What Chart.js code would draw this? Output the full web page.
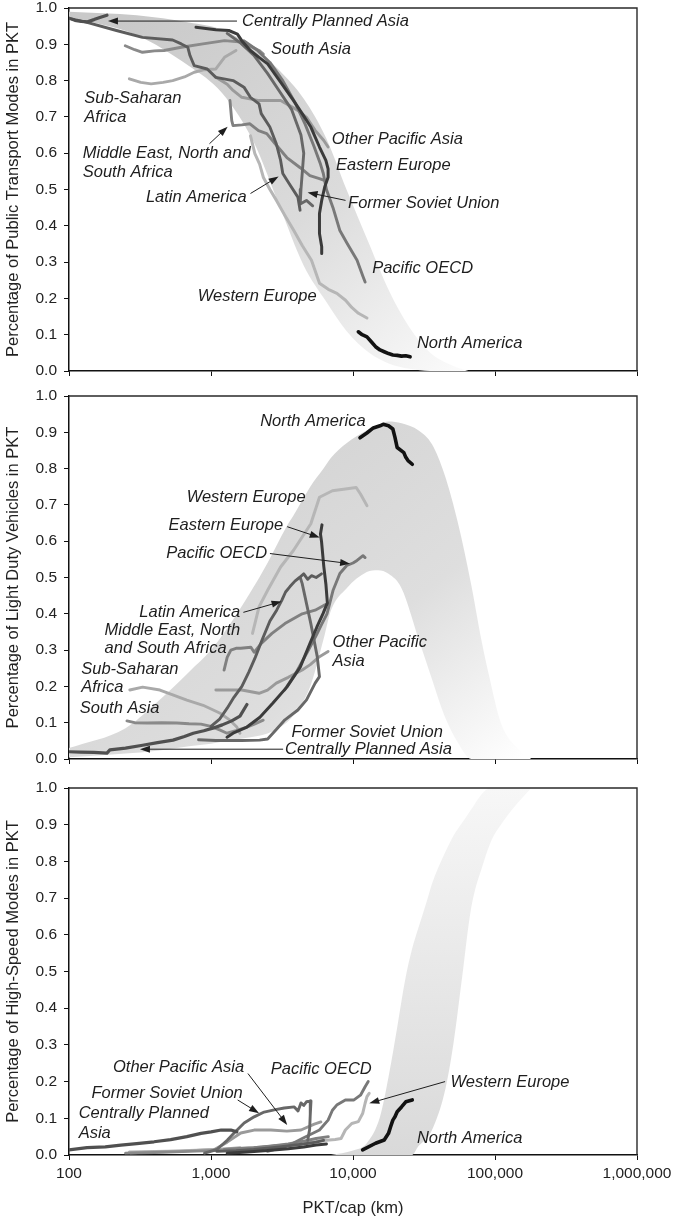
<!doctype html>
<html lang="en">
<head>
<meta charset="utf-8">
<title>Mode shares vs PKT/cap</title>
<script src="https://cdn.jsdelivr.net/npm/chart.js"></script>
<style>
  body { margin: 0; background: #fff; }
  .panel { position: absolute; left: 0; width: 674px; }
</style>
</head>
<body>
<div class="panel" style="top:0;height:390px"><canvas id="pt"></canvas></div>
<div class="panel" style="top:388px;height:390px"><canvas id="ldv"></canvas></div>
<div class="panel" style="top:780px;height:443px"><canvas id="hs"></canvas></div>
<script>
// axis ticks
const xTicks = [100, 1000, 10000, 100000, 1000000];
const xTickLabels = ['100', '1,000', '10,000', '100,000', '1,000,000'];
const yTicks = [0, 0.1, 0.2, 0.3, 0.4, 0.5, 0.6, 0.7, 0.8, 0.9, 1.0];
const yTickLabels = ['0.0', '0.1', '0.2', '0.3', '0.4', '0.5', '0.6', '0.7', '0.8', '0.9', '1.0'];

// shaded ranges: x (PKT/cap) and upper / lower share
const ptBandX = [100, 300, 700, 1200, 2000, 3000, 4500, 6500, 9000, 13000, 18000, 25000, 35000, 50000, 65000];
const ptBandHigh = [0.99, 0.98, 0.96, 0.94, 0.89, 0.83, 0.75, 0.64, 0.5, 0.35, 0.22, 0.12, 0.05, 0.015, 0];
const ptBandLow = [0.975, 0.925, 0.84, 0.765, 0.63, 0.46, 0.29, 0.19, 0.11, 0.05, 0.02, 0.006, 0, 0, 0];

const ldvBandX = [100, 250, 400, 700, 1000, 1300, 1900, 2500, 3400, 3800, 5000, 6200, 7000, 9000, 12500, 15000, 17800, 22000, 29000, 36000, 44000, 55000, 68000, 80000, 90000, 110000, 147000, 180000];
const ldvBandHigh = [0.03, 0.085, 0.15, 0.24, 0.3, 0.36, 0.46, 0.54, 0.64, 0.67, 0.75, 0.8, 0.83, 0.87, 0.905, 0.92, 0.93, 0.925, 0.905, 0.867, 0.785, 0.648, 0.48, 0.33, 0.236, 0.099, 0.026, 0];
const ldvBandLow = [0.005, 0.015, 0.022, 0.035, 0.042, 0.05, 0.06, 0.07, 0.1, 0.12, 0.2, 0.33, 0.41, 0.47, 0.515, 0.52, 0.51, 0.47, 0.33, 0.22, 0.12, 0.044, 0, 0, 0, 0, 0, 0];

const hsBandX = [7000, 10000, 12500, 15500, 17800, 20500, 23500, 26000, 29000, 33000, 36000, 44000, 51000, 58700, 67500, 83500, 95000, 110000, 138000, 180000];
const hsBandHigh = [0, 0.012, 0.032, 0.104, 0.213, 0.349, 0.485, 0.56, 0.621, 0.69, 0.739, 0.82, 0.87, 0.905, 0.94, 0.99, 1.0, 1.0, 1.0, 1.0];
const hsBandLow = [0, 0, 0, 0, 0, 0, 0, 0, 0.025, 0.045, 0.068, 0.168, 0.304, 0.485, 0.666, 0.8, 0.86, 0.9, 0.95, 1.0];

// public transport share, [PKT/cap, share]
const ptNorthAmerica = [[10900,0.108],[11600,0.1],[12540,0.094],[13500,0.08],[14420,0.067],[15500,0.058],[16590,0.053],[17800,0.048],[19090,0.044],[20500,0.043],[21960,0.041],[23500,0.042],[25250,0.039]];
const ptWesternEurope = [[1897,0.648],[2036,0.599],[2200,0.57],[2339,0.533],[2600,0.5],[2890,0.47],[3300,0.43],[3830,0.387],[4400,0.345],[5100,0.305],[5810,0.242],[6700,0.225],[7700,0.214],[8860,0.195],[9800,0.175],[10920,0.159],[12540,0.146]];
const ptPacificOECD = [[1700,0.91],[2100,0.885],[2600,0.85],[3200,0.8],[3900,0.74],[4600,0.68],[5300,0.62],[5900,0.57],[6180,0.544],[6500,0.5],[7230,0.45],[8080,0.387],[9080,0.352],[10680,0.305],[11760,0.26],[12170,0.245]];
const ptEasternEurope = [[784,0.947],[1082,0.94],[1335,0.938],[1535,0.928],[1647,0.91],[1894,0.883],[2179,0.864],[2506,0.846],[3092,0.796],[3815,0.745],[4388,0.709],[5047,0.672],[5806,0.617],[6440,0.58],[6678,0.557],[6678,0.534],[6320,0.507],[6020,0.47],[5806,0.434],[5806,0.379],[6020,0.342],[6020,0.324]];
const ptFormerSovietUnion = [[1300,0.93],[1600,0.905],[2000,0.87],[2500,0.82],[3100,0.765],[3700,0.72],[4300,0.65],[4500,0.6],[4400,0.55],[4300,0.5],[4250,0.46],[4700,0.47],[5200,0.455]];
const ptCentrallyPlannedAsia = [[100,0.972],[110,0.966],[122,0.963],[135,0.962],[150,0.968],[165,0.974],[185,0.98]];
const ptSouthAsia = [[249,0.896],[290,0.885],[329,0.878],[400,0.882],[467,0.883],[618,0.892],[877,0.901],[1245,0.91],[1647,0.906],[2179,0.883],[2337,0.873]];
const ptOtherPacificAsia = [[1082,0.809],[1300,0.79],[1431,0.773],[1647,0.754],[2179,0.745],[3092,0.745],[4091,0.718],[4706,0.699],[5413,0.663],[6227,0.635],[6678,0.617]];
const ptMiddleEast = [[1360,0.745],[1400,0.69],[1430,0.676],[1650,0.678],[1880,0.681],[2160,0.662],[2470,0.654],[2830,0.626],[3420,0.588],[4250,0.56],[4970,0.538],[5800,0.53],[6280,0.525]];
const ptLatinAmerica = [[104,0.97],[132,0.961],[216,0.938],[329,0.919],[537,0.912],[618,0.901],[686,0.892],[711,0.869],[762,0.841],[940,0.832],[1082,0.809],[1431,0.8],[1706,0.782],[1894,0.754],[2179,0.736],[2258,0.709],[2597,0.672],[2883,0.626],[3092,0.58],[3203,0.544],[3557,0.516],[4091,0.479],[4239,0.443]];
const ptSubSaharanAfrica = [[266,0.805],[320,0.795],[379,0.791],[460,0.795],[537,0.8],[650,0.81],[762,0.823],[900,0.83],[1082,0.832],[1245,0.864],[1500,0.883]];

// light duty vehicle share
const ldvNorthAmerica = [[11200,0.885],[12520,0.898],[13900,0.912],[15500,0.918],[16300,0.922],[17790,0.918],[19080,0.909],[19750,0.886],[20470,0.858],[22800,0.844],[23540,0.831],[24400,0.822],[26140,0.812]];
const ldvWesternEurope = [[1960,0.346],[2179,0.419],[2506,0.465],[3092,0.529],[3815,0.575],[5047,0.648],[5806,0.721],[7162,0.739],[8836,0.744],[10530,0.748],[11290,0.73],[12540,0.698]];
const ldvPacificOECD = [[3300,0.19],[4000,0.24],[4700,0.29],[5500,0.34],[6000,0.37],[6560,0.4],[7230,0.464],[8080,0.511],[9040,0.533],[10000,0.54],[10680,0.547],[11760,0.56],[12170,0.555]];
const ldvEasternEurope = [[1296,0.06],[1430,0.071],[1790,0.088],[2210,0.115],[2730,0.154],[3420,0.198],[4250,0.253],[4980,0.319],[5560,0.363],[6160,0.401],[6600,0.43],[6450,0.48],[6230,0.53],[6000,0.6],[5900,0.62],[6050,0.645]];
const ldvFormerSovietUnion = [[817,0.053],[1082,0.051],[1647,0.051],[2200,0.052],[2506,0.055],[2883,0.081],[3316,0.108],[4091,0.135],[4706,0.163],[5413,0.209],[5806,0.227],[5600,0.282],[5047,0.373],[4706,0.428],[4388,0.483],[4250,0.5]];
const ldvCentrallyPlannedAsia = [[100,0.02],[120,0.019],[150,0.018],[185,0.016],[194,0.025],[250,0.03],[330,0.038],[420,0.045],[540,0.052],[650,0.062],[750,0.071],[890,0.078],[1030,0.085],[1200,0.094],[1400,0.105],[1600,0.118],[1790,0.15]];
const ldvSouthAsia = [[256,0.105],[290,0.1],[355,0.099],[450,0.1],[575,0.099],[700,0.097],[850,0.096],[1000,0.09],[1150,0.08],[1296,0.071],[1500,0.078],[1790,0.088],[2000,0.095],[2330,0.107]];
const ldvOtherPacificAsia = [[1082,0.19],[1300,0.19],[1647,0.19],[2179,0.181],[2500,0.19],[2883,0.209],[3500,0.225],[4388,0.245],[5000,0.26],[5806,0.282],[6678,0.296]];
const ldvMiddleEast = [[1236,0.245],[1300,0.28],[1380,0.3],[1500,0.305],[1620,0.305],[1910,0.308],[2013,0.294],[2250,0.318],[2688,0.346],[3316,0.373],[4388,0.4],[5413,0.41],[6227,0.423],[6678,0.428]];
const ldvLatinAmerica = [[1000,0.09],[1150,0.11],[1300,0.14],[1450,0.17],[1650,0.2],[1850,0.24],[2050,0.28],[2300,0.33],[2600,0.38],[2900,0.41],[3150,0.437],[3350,0.46],[3600,0.475],[3900,0.49],[4200,0.5],[4500,0.51],[4800,0.495],[5100,0.505],[5500,0.5],[6000,0.51]];
const ldvSubSaharanAfrica = [[268,0.19],[330,0.198],[437,0.19],[550,0.175],[676,0.162],[880,0.148],[1160,0.126],[1360,0.107],[1520,0.088],[1600,0.071]];

// high-speed modes share
const hsNorthAmerica = [[11690,0.014],[14420,0.032],[16590,0.041],[17790,0.059],[18400,0.077],[19080,0.095],[19750,0.104],[20470,0.118],[21960,0.131],[23540,0.145],[26140,0.15]];
const hsWesternEurope = [[266,0.008],[500,0.01],[1000,0.014],[2000,0.02],[3500,0.028],[5000,0.035],[6500,0.04],[7500,0.042],[8238,0.045],[8836,0.068],[9800,0.086],[10900,0.091],[11690,0.113],[12170,0.141],[12540,0.159],[13000,0.168]];
const hsPacificOECD = [[2500,0.01],[3500,0.025],[4388,0.045],[5806,0.068],[6678,0.095],[7162,0.122],[7681,0.136],[8836,0.15],[10160,0.15],[11290,0.163],[12170,0.186],[12800,0.2]];
const hsEasternEurope = [[1300,0.005],[1800,0.008],[2500,0.012],[3500,0.017],[4500,0.022],[5500,0.027],[6500,0.03]];
const hsFormerSovietUnion = [[900,0.005],[1100,0.015],[1300,0.04],[1454,0.06],[1711,0.087],[2013,0.104],[2368,0.117],[2787,0.123],[3280,0.128],[3858,0.131],[4100,0.12],[4300,0.142],[4500,0.135],[4700,0.145],[5060,0.147],[5000,0.11],[4950,0.07],[4800,0.04]];
const hsCentrallyPlannedAsia = [[100,0.014],[134,0.02],[180,0.022],[232,0.027],[300,0.031],[397,0.036],[520,0.042],[676,0.05],[851,0.059],[1000,0.063],[1180,0.068],[1380,0.068],[1520,0.063]];
const hsSouthAsia = [[250,0.005],[400,0.007],[700,0.01],[1000,0.012],[1500,0.015],[2200,0.02],[2800,0.025]];
const hsOtherPacificAsia = [[1050,0.014],[1300,0.035],[1620,0.06],[2013,0.068],[2640,0.068],[3420,0.065],[4300,0.068],[5340,0.084],[5940,0.09]];
const hsMiddleEast = [[1240,0.015],[1600,0.018],[2000,0.02],[2700,0.025],[3500,0.03],[4500,0.038],[5500,0.045],[6700,0.05]];
const hsLatinAmerica = [[1100,0.01],[1500,0.012],[2000,0.015],[2700,0.02],[3500,0.025],[4500,0.03],[5500,0.035],[6200,0.04]];
const hsSubSaharanAfrica = [[270,0.006],[400,0.008],[600,0.01],[900,0.014],[1200,0.016],[1600,0.02]];

// colour, width, draw order (higher = further back)
const regionStyle = {
  'North America': ['#121212', 3.6, 0],
  'Eastern Europe': ['#3b3b3b', 3, 1],
  'Centrally Planned Asia': ['#505050', 3.2, 2],
  'Latin America': ['#5c5c5c', 2.9, 3],
  'Former Soviet Union': ['#686868', 2.9, 4],
  'Pacific OECD': ['#787878', 2.9, 5],
  'Middle East, North and South Africa': ['#808080', 2.9, 6],
  'South Asia': ['#8a8a8a', 2.9, 7],
  'Other Pacific Asia': ['#9a9a9a', 2.9, 8],
  'Sub-Saharan Africa': ['#a9a9a9', 2.9, 9],
  'Western Europe': ['#b6b6b6', 3, 10]
};

const FONT = '"Liberation Sans", Arial, Helvetica, sans-serif';
Chart.defaults.font.family = FONT;
Chart.defaults.color = '#222';

function xy(points) { return points.map(p => ({x: p[0], y: p[1]})); }

function makePanel(id, opt) {
  const datasets = [
    {
      data: opt.bandX.map((x, i) => ({x, y: opt.bandHigh[i]})),
      borderWidth: 0, pointRadius: 0, fill: '+1', order: 20,
      cubicInterpolationMode: 'monotone',
      backgroundColor: (c) => {
        const ch = c.chart;
        if (!ch.chartArea) return '#dddddd';
        return opt.gradient(ch.ctx, ch.scales.x, ch.scales.y);
      }
    },
    {
      data: opt.bandX.map((x, i) => ({x, y: opt.bandLow[i]})),
      borderWidth: 0, pointRadius: 0, fill: false, order: 20,
      cubicInterpolationMode: 'monotone'
    }
  ];
  opt.series.forEach(([name, pts]) => {
    const s = regionStyle[name];
    datasets.push({
      label: name, data: xy(pts), borderColor: s[0], borderWidth: s[1], order: s[2],
      pointRadius: 0, fill: false, tension: 0,
      borderJoinStyle: 'round', borderCapStyle: 'round'
    });
  });

  const notes = {
    id: 'notes',
    afterDatasetsDraw(chart) {
      const {ctx, scales: {x, y}} = chart;
      ctx.save();
      ctx.fillStyle = '#1e1e1e';
      ctx.strokeStyle = '#1e1e1e';
      ctx.font = 'italic 16.5px ' + FONT;
      ctx.textBaseline = 'middle';
      opt.labels.forEach(([text, lx, ly]) => {
        ctx.fillText(text, x.getPixelForValue(lx), y.getPixelForValue(ly));
      });
      ctx.lineWidth = 1;
      opt.arrows.forEach(([fx, fy, tx, ty]) => {
        const x1 = x.getPixelForValue(fx), y1 = y.getPixelForValue(fy);
        const x2 = x.getPixelForValue(tx), y2 = y.getPixelForValue(ty);
        const a = Math.atan2(y2 - y1, x2 - x1), c = Math.cos(a), s = Math.sin(a);
        ctx.beginPath();
        ctx.moveTo(x1, y1);
        ctx.lineTo(x2 - 7 * c, y2 - 7 * s);
        ctx.stroke();
        ctx.beginPath();
        ctx.moveTo(x2, y2);
        ctx.lineTo(x2 - 10 * c + 3.5 * s, y2 - 10 * s - 3.5 * c);
        ctx.lineTo(x2 - 10 * c - 3.5 * s, y2 - 10 * s + 3.5 * c);
        ctx.closePath();
        ctx.fill();
      });
      ctx.restore();
    }
  };

  const frame = {
    id: 'frame',
    afterDraw(chart) {
      const {ctx, chartArea: a} = chart;
      ctx.save();
      ctx.strokeStyle = '#2a2a2a';
      ctx.lineWidth = 1.4;
      ctx.beginPath();
      ctx.moveTo(a.left, a.top);
      ctx.lineTo(a.right, a.top);
      ctx.lineTo(a.right, a.bottom);
      ctx.stroke();
      ctx.restore();
    }
  };

  return new Chart(document.getElementById(id), {
    type: 'line',
    data: {datasets},
    plugins: [notes, frame],
    options: {
      responsive: true,
      maintainAspectRatio: false,
      animation: false,
      events: [],
      layout: {padding: {top: 8, right: 37, left: 0, bottom: 0}},
      plugins: {legend: {display: false}, tooltip: {enabled: false}},
      scales: {
        x: {
          type: 'logarithmic', min: 100, max: 1000000,
          afterBuildTicks: (sc) => { sc.ticks = xTicks.map(v => ({value: v})); },
          afterFit: (sc) => { sc.height = opt.xHeight; sc.paddingLeft = 0; sc.paddingRight = 0; },
          ticks: {
            display: opt.showX, autoSkip: false, maxRotation: 0, padding: 4,
            font: {size: 15.5}, color: '#222',
            callback: (v, i) => xTickLabels[i]
          },
          grid: {drawOnChartArea: false, drawTicks: true, tickLength: 5, color: '#111'},
          border: {display: true, color: '#111', width: 1.5},
          title: {
            display: opt.showX, text: 'PKT/cap (km)', color: '#222',
            font: {size: 16.5}, padding: {top: 0, bottom: 5}
          }
        },
        y: {
          min: 0, max: 1,
          afterBuildTicks: (sc) => { sc.ticks = yTicks.map(v => ({value: v})); },
          afterFit: (sc) => { sc.width = 69; sc.paddingTop = 0; sc.paddingBottom = 0; },
          ticks: {padding: 7, font: {size: 15.5}, color: '#222', callback: (v, i) => yTickLabels[i]},
          grid: {drawOnChartArea: false, drawTicks: true, tickLength: 5, color: '#111'},
          border: {display: true, color: '#111', width: 1.5},
          title: {display: true, text: opt.title, color: '#222', font: {size: 16.5}, padding: {top: 4, bottom: 0}}
        }
      }
    }
  });
}

makePanel('pt', {
  title: 'Percentage of Public Transport Modes in PKT',
  showX: false, xHeight: 19,
  bandX: ptBandX, bandHigh: ptBandHigh, bandLow: ptBandLow,
  gradient: (ctx, x, y) => {
    const g = ctx.createLinearGradient(x.getPixelForValue(300), y.getPixelForValue(1), x.getPixelForValue(60000), y.getPixelForValue(0));
    g.addColorStop(0, '#c9c9c9');
    g.addColorStop(0.55, '#dbdbdb');
    g.addColorStop(1, '#fbfbfb');
    return g;
  },
  series: [
    ['North America', ptNorthAmerica], ['Western Europe', ptWesternEurope], ['Pacific OECD', ptPacificOECD],
    ['Eastern Europe', ptEasternEurope], ['Former Soviet Union', ptFormerSovietUnion],
    ['Centrally Planned Asia', ptCentrallyPlannedAsia], ['South Asia', ptSouthAsia],
    ['Other Pacific Asia', ptOtherPacificAsia], ['Middle East, North and South Africa', ptMiddleEast],
    ['Latin America', ptLatinAmerica], ['Sub-Saharan Africa', ptSubSaharanAfrica]
  ],
  labels: [
    ['Centrally Planned Asia', 1653, 0.964], ['South Asia', 2648, 0.887],
    ['Sub-Saharan', 128, 0.75], ['Africa', 128, 0.698],
    ['Middle East, North and', 125, 0.599], ['South Africa', 125, 0.546],
    ['Latin America', 348, 0.478], ['Other Pacific Asia', 7090, 0.637],
    ['Eastern Europe', 7590, 0.566], ['Former Soviet Union', 9230, 0.461],
    ['Pacific OECD', 13650, 0.283], ['Western Europe', 807, 0.206],
    ['North America', 28200, 0.077]
  ],
  arrows: [
    [1524, 0.964, 188, 0.964], [975, 0.626, 1309, 0.673],
    [1897, 0.489, 2993, 0.536], [8860, 0.47, 4790, 0.492]
  ]
});

makePanel('ldv', {
  title: 'Percentage of Light Duty Vehicles in PKT',
  showX: false, xHeight: 19,
  bandX: ldvBandX, bandHigh: ldvBandHigh, bandLow: ldvBandLow,
  gradient: (ctx, x, y) => {
    const g = ctx.createLinearGradient(x.getPixelForValue(2000), y.getPixelForValue(0.9), x.getPixelForValue(150000), y.getPixelForValue(0));
    g.addColorStop(0, '#d3d3d3');
    g.addColorStop(0.55, '#dedede');
    g.addColorStop(1, '#ffffff');
    return g;
  },
  series: [
    ['North America', ldvNorthAmerica], ['Western Europe', ldvWesternEurope], ['Pacific OECD', ldvPacificOECD],
    ['Eastern Europe', ldvEasternEurope], ['Former Soviet Union', ldvFormerSovietUnion],
    ['Centrally Planned Asia', ldvCentrallyPlannedAsia], ['South Asia', ldvSouthAsia],
    ['Other Pacific Asia', ldvOtherPacificAsia], ['Middle East, North and South Africa', ldvMiddleEast],
    ['Latin America', ldvLatinAmerica], ['Sub-Saharan Africa', ldvSubSaharanAfrica]
  ],
  labels: [
    ['North America', 2220, 0.931], ['Western Europe', 674, 0.72],
    ['Eastern Europe', 502, 0.643], ['Pacific OECD', 484, 0.566],
    ['Latin America', 313, 0.404], ['Middle East, North', 178, 0.354],
    ['and South Africa', 178, 0.305], ['Other Pacific', 7180, 0.321], ['Asia', 7180, 0.269],
    ['Sub-Saharan', 122, 0.247], ['Africa', 122, 0.198], ['South Asia', 119, 0.14],
    ['Former Soviet Union', 3690, 0.074], ['Centrally Planned Asia', 3320, 0.027]
  ],
  arrows: [
    [3440, 0.64, 5830, 0.61], [2600, 0.566, 9540, 0.538],
    [1690, 0.404, 3140, 0.434], [3220, 0.027, 316, 0.027]
  ]
});

makePanel('hs', {
  title: 'Percentage of High-Speed Modes in PKT',
  showX: true, xHeight: 68,
  bandX: hsBandX, bandHigh: hsBandHigh, bandLow: hsBandLow,
  gradient: (ctx, x, y) => {
    const g = ctx.createLinearGradient(0, y.getPixelForValue(0), 0, y.getPixelForValue(1));
    g.addColorStop(0, '#d9d9d9');
    g.addColorStop(1, '#f7f7f7');
    return g;
  },
  series: [
    ['North America', hsNorthAmerica], ['Western Europe', hsWesternEurope], ['Pacific OECD', hsPacificOECD],
    ['Eastern Europe', hsEasternEurope], ['Former Soviet Union', hsFormerSovietUnion],
    ['Centrally Planned Asia', hsCentrallyPlannedAsia], ['South Asia', hsSouthAsia],
    ['Other Pacific Asia', hsOtherPacificAsia], ['Middle East, North and South Africa', hsMiddleEast],
    ['Latin America', hsLatinAmerica], ['Sub-Saharan Africa', hsSubSaharanAfrica]
  ],
  labels: [
    ['Other Pacific Asia', 204, 0.24], ['Pacific OECD', 2640, 0.232],
    ['Western Europe', 48600, 0.199], ['Former Soviet Union', 144, 0.169],
    ['Centrally Planned', 117, 0.112], ['Asia', 117, 0.06],
    ['North America', 28200, 0.046]
  ],
  arrows: [
    [1540, 0.15, 2180, 0.114], [1820, 0.222, 3440, 0.082], [44500, 0.2, 13020, 0.141]
  ]
});
</script>
</body>
</html>
